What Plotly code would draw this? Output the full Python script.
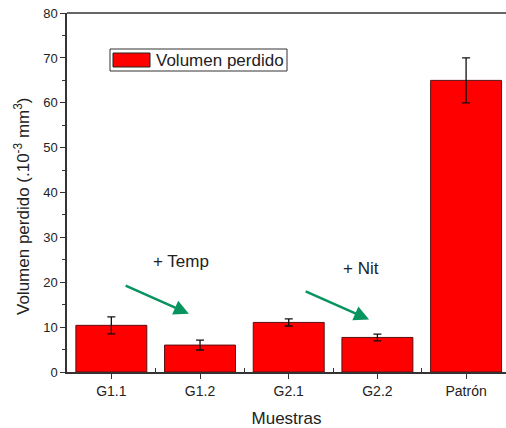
import plotly.graph_objects as go

categories = ["G1.1", "G1.2", "G2.1", "G2.2", "Patrón"]
volumen = [10.4, 6.0, 11.05, 7.7, 65.0]
errores = [1.9, 1.1, 0.8, 0.75, 5.0]
series_name = "Volumen perdido"

FONT = "Liberation Sans, Arial, sans-serif"
TXT = "#222222"
GREEN = "#08945f"
AX = "#333333"

xpos = list(range(len(categories)))

fig = go.Figure()
fig.add_trace(go.Bar(
    x=xpos, y=volumen, name=series_name, width=0.8,
    marker=dict(color="#ff0000", line=dict(color="#5a1010", width=1)),
    error_y=dict(type="data", array=errores, visible=True, color="#111111",
                 thickness=1.3, width=4),
    showlegend=False,
))

# plot area in page pixels: x 67..506, y 13..372
PW, PH = 439, 359
def px(xp):
    return (xp - 67) / PW
def py(yp):
    return (372 - yp) / PH

# manual legend resembling the original (wide swatch)
fig.add_shape(type="rect", xref="paper", yref="paper",
              x0=px(110), x1=px(287), y0=py(71), y1=py(49),
              line=dict(color=AX, width=1), fillcolor="white")
fig.add_shape(type="rect", xref="paper", yref="paper",
              x0=px(113), x1=px(150), y0=py(67), y1=py(53),
              line=dict(color="#222222", width=1), fillcolor="#ff0000")
fig.add_annotation(text=series_name, xref="paper", yref="paper",
                   x=px(154), y=py(60), xanchor="left", yanchor="middle",
                   showarrow=False, font=dict(family=FONT, size=17, color=TXT))

# y-axis title placed as in the reference
fig.add_annotation(text="Volumen perdido (.10<sup>-3</sup> mm<sup>3</sup>)",
                   xref="paper", yref="paper", x=px(22), y=py(206),
                   xanchor="center", yanchor="middle", textangle=-90,
                   showarrow=False, font=dict(family=FONT, size=17, color=TXT))

# arrows
for (x0, y0, x1, y1) in [(0.144, 19.4, 0.874, 13.0), (2.174, 18.1, 2.906, 11.7)]:
    fig.add_annotation(x=x1, y=y1, ax=x0, ay=y0, xref="x", yref="y",
                       axref="x", ayref="y", text="", showarrow=True,
                       arrowhead=2, arrowsize=1.2, arrowwidth=2.5, arrowcolor=GREEN)
fig.add_annotation(x=0.79, y=24.6, text="+ Temp", showarrow=False,
                   font=dict(family=FONT, size=17, color=TXT))
fig.add_annotation(x=2.82, y=23.0, text="+ Nit", showarrow=False,
                   font=dict(family=FONT, size=17, color=TXT))

# top frame line
fig.add_shape(type="line", xref="paper", yref="paper", x0=0, x1=1, y0=1, y1=1,
              line=dict(color=AX, width=1.5))

fig.update_layout(
    width=506, height=428,
    margin=dict(l=67, r=0, t=13, b=56),
    plot_bgcolor="white", paper_bgcolor="white",
    font=dict(family=FONT, color=TXT),
)
fig.update_xaxes(
    range=[-0.5, 4.45], showgrid=False, showline=True, linecolor=AX,
    linewidth=1.5, ticks="outside", ticklen=5, tickcolor=AX, zeroline=False,
    tickvals=xpos, ticktext=categories,
    tickfont=dict(size=14, family=FONT, color=TXT),
    minor=dict(tickvals=[p + 0.5 for p in xpos[:-1]], ticks="inside", ticklen=4,
               tickcolor=AX, showgrid=False),
    title=dict(text="Muestras", font=dict(size=17, family=FONT, color=TXT), standoff=16),
)
fig.update_yaxes(
    range=[0, 80.02], tickvals=list(range(0, 81, 10)), showgrid=False,
    showline=True, linecolor=AX,
    linewidth=1.5, ticks="outside", ticklen=5, tickcolor=AX,
    tickfont=dict(size=13, family=FONT, color=TXT), zeroline=False,
    minor=dict(tickvals=list(range(5, 80, 10)), ticks="outside", ticklen=3, tickcolor=AX),
)

fig.write_html(
    "out.html",
    config={"displayModeBar": False},
    post_script="document.body.style.margin='0';document.body.style.overflow='hidden';",
)
